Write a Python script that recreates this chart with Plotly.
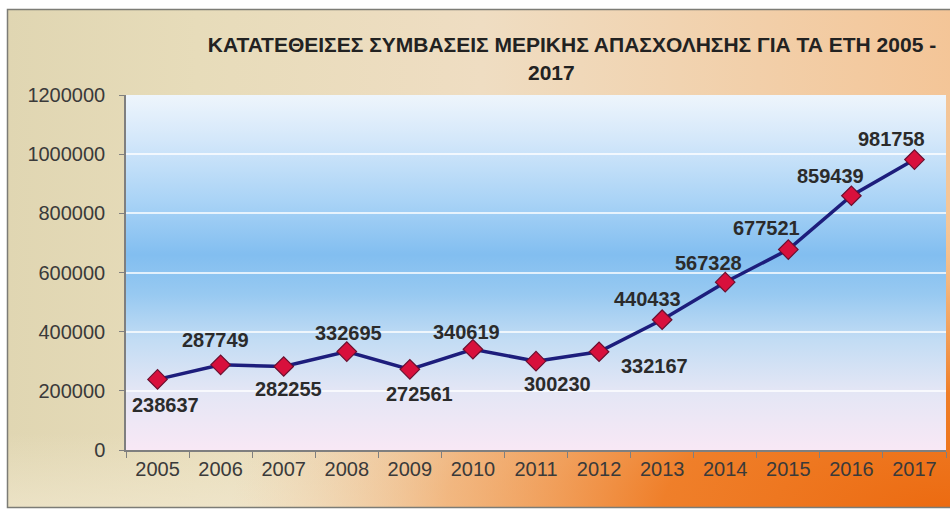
import base64
import plotly.graph_objects as go

# Part-time employment contracts filed per year
years = ["2005", "2006", "2007", "2008", "2009", "2010", "2011",
         "2012", "2013", "2014", "2015", "2016", "2017"]
contracts = [238637, 287749, 282255, 332695, 272561, 340619, 300230,
             332167, 440433, 567328, 677521, 859439, 981758]

y_ticks = [0, 200000, 400000, 600000, 800000, 1000000, 1200000]

title_line1 = "ΚΑΤΑΤΕΘΕΙΣΕΣ ΣΥΜΒΑΣΕΙΣ ΜΕΡΙΚΗΣ ΑΠΑΣΧΟΛΗΣΗΣ ΓΙΑ ΤΑ ΕΤΗ 2005 -"
title_line2 = "2017"

# Pixel offsets of each value label relative to its marker (x right, y up)
label_dx = [8, -5, 5, 2, 10, -6, 21, 55, -15, -17, -22, -21, -23]
label_dy = [-26, 25, -22, 19, -25, 17, -23, -14, 21, 19, 22, 20, 21]

W, H = 950, 513
ML, MR, MT, MB = 126, 4, 95, 63
PW, PH = W - ML - MR, H - MT - MB

FONT = "Liberation Sans, Arial, sans-serif"


def svg_uri(svg):
    return "data:image/svg+xml;base64," + base64.b64encode(svg.encode("utf-8")).decode("ascii")


def px_to_paper_x(px):
    return (px - ML) / PW


def px_to_paper_y(py):
    return (H - MB - py) / PH


# Chart box: beige on the left, warming to orange towards the bottom right
outer_svg = f"""<svg xmlns="http://www.w3.org/2000/svg" width="{W}" height="{H}" viewBox="0 0 {W} {H}" preserveAspectRatio="none">
<defs>
<linearGradient id="base" x1="0" y1="0" x2="1" y2="0">
<stop offset="0" stop-color="#e0d6b2"/>
<stop offset="0.2" stop-color="#e7dcba"/>
<stop offset="0.5" stop-color="#efddc2"/>
<stop offset="1" stop-color="#f4c597"/>
</linearGradient>
<linearGradient id="floor" x1="0" y1="0" x2="0" y2="1">
<stop offset="0" stop-color="#f3ead2" stop-opacity="0"/>
<stop offset="0.85" stop-color="#f3ead2" stop-opacity="0"/>
<stop offset="1" stop-color="#f3ead2" stop-opacity="0.6"/>
</linearGradient>
<radialGradient id="glow" gradientUnits="userSpaceOnUse" cx="950" cy="513" r="1" gradientTransform="translate(950 513) scale(720 300) translate(-950 -513)">
<stop offset="0" stop-color="#ec6a10" stop-opacity="1"/>
<stop offset="0.4" stop-color="#ef7a22" stop-opacity="0.95"/>
<stop offset="0.7" stop-color="#f29a50" stop-opacity="0.6"/>
<stop offset="1" stop-color="#f4c597" stop-opacity="0"/>
</radialGradient>
</defs>
<rect x="0" y="0" width="{W}" height="{H}" fill="#ffffff"/>
<rect x="7" y="9" width="{W}" height="499" fill="url(#base)"/>
<rect x="7" y="9" width="{W}" height="499" fill="url(#floor)"/>
<rect x="7" y="9" width="{W}" height="499" fill="url(#glow)"/>
<rect x="7.5" y="9.5" width="{W}" height="498" fill="none" stroke="#7c7c76" stroke-width="1.5"/>
</svg>"""

# Plot area: pale at the top, sky blue in the middle, lilac at the bottom
plot_svg = """<svg xmlns="http://www.w3.org/2000/svg" width="100" height="100" viewBox="0 0 100 100" preserveAspectRatio="none">
<defs>
<linearGradient id="sky" x1="0" y1="0" x2="0" y2="1">
<stop offset="0" stop-color="#eef5fc"/>
<stop offset="0.12" stop-color="#d5e8fa"/>
<stop offset="0.3" stop-color="#a9d3f6"/>
<stop offset="0.45" stop-color="#82bef0"/>
<stop offset="0.56" stop-color="#97c9f1"/>
<stop offset="0.69" stop-color="#c2dcf4"/>
<stop offset="0.83" stop-color="#e3e6f5"/>
<stop offset="1" stop-color="#f8e8f5"/>
</linearGradient>
</defs>
<rect x="0" y="0" width="100" height="100" fill="url(#sky)"/>
</svg>"""

fig = go.Figure()

fig.add_trace(go.Scatter(
    x=years,
    y=contracts,
    mode="lines+markers",
    line=dict(color="#1d1d7c", width=3.5),
    marker=dict(symbol="diamond", size=15, color="#d8103c",
                line=dict(color="#6a1030", width=1.2)),
    hoverinfo="x+y",
    showlegend=False,
))

# Value labels, placed on the category index of each year
for i, (v, dx, dy) in enumerate(zip(contracts, label_dx, label_dy)):
    fig.add_annotation(
        x=i, y=v, xref="x", yref="y",
        text=f"<b>{v}</b>", showarrow=False,
        xshift=dx, yshift=dy,
        font=dict(family=FONT, size=20, color="#2b2b2b"),
    )

# Second title line, centred slightly left of the first one
fig.add_annotation(
    x=px_to_paper_x(551), y=px_to_paper_y(72), xref="paper", yref="paper",
    text=f"<b>{title_line2}</b>", showarrow=False,
    xanchor="center", yanchor="middle",
    font=dict(family=FONT, size=21, color="#222222"),
)

fig.update_layout(
    width=W, height=H,
    margin=dict(l=ML, r=MR, t=MT, b=MB, pad=0),
    paper_bgcolor="#ffffff",
    plot_bgcolor="rgba(0,0,0,0)",
    title=dict(
        text=f"<b>{title_line1}</b>",
        x=572 / W, xref="container", xanchor="center",
        y=1 - 45 / H, yref="container", yanchor="middle",
        font=dict(family=FONT, size=21, color="#222222"),
    ),
    xaxis=dict(
        type="category",
        range=[-0.5, len(years) - 0.5],
        showgrid=False,
        showline=True, linecolor="#7f7f7f", linewidth=1.5,
        ticks="outside", tickson="boundaries", ticklen=6,
        tickcolor="#7f7f7f", tickwidth=1.2,
        ticklabelstandoff=0,
        tickfont=dict(family=FONT, size=20, color="#3a3a3a"),
        zeroline=False, fixedrange=True,
    ),
    yaxis=dict(
        range=[0, 1200000],
        tickvals=y_ticks,
        ticktext=[str(t) for t in y_ticks],
        showgrid=True, gridcolor="rgba(255,255,255,0.75)", gridwidth=1.5,
        showline=True, linecolor="#7f7f7f", linewidth=1.5,
        ticks="outside", ticklen=5, tickcolor="#7f7f7f", tickwidth=1.2,
        ticklabelstandoff=10,
        tickfont=dict(family=FONT, size=20, color="#3a3a3a"),
        zeroline=False, fixedrange=True,
    ),
    images=[
        dict(source=svg_uri(outer_svg), xref="paper", yref="paper",
             x=-ML / PW, y=1 + MT / PH, sizex=W / PW, sizey=H / PH,
             xanchor="left", yanchor="top", sizing="stretch", layer="below"),
        dict(source=svg_uri(plot_svg), xref="paper", yref="paper",
             x=0, y=1, sizex=1, sizey=1,
             xanchor="left", yanchor="top", sizing="stretch", layer="below"),
    ],
)

fig.write_html("out.html", config={"displayModeBar": False})
